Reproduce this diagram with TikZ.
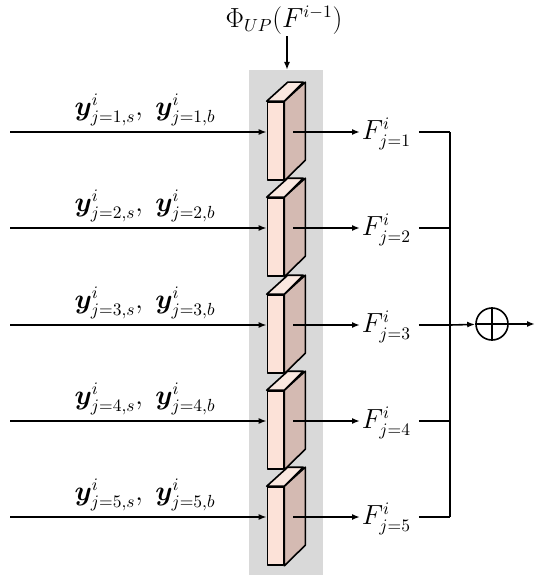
\documentclass[tikz,border=0pt]{standalone}
\usepackage{bm}
\usetikzlibrary{positioning,calc,arrows.meta}
\usepackage{xcolor}
\definecolor{band}{RGB}{217,217,217}
\definecolor{frontface}{RGB}{252,226,216}
\definecolor{sideface}{RGB}{212,186,178}
\definecolor{topface}{RGB}{250,232,224}

\begin{document}
\begin{tikzpicture}[x=1pt,y=-1pt,
  lbl/.style={font=\fontsize{16}{19}\selectfont, scale=1.6, transform shape, inner sep=1pt},
  ln/.style={line width=1.6pt},
  arr/.style={line width=1.6pt, -{Latex[length=8pt,width=6pt]}},
  face/.style={line width=1.6pt, line join=round},
  front/.style={face, draw, fill=frontface, minimum width=16pt, minimum height=78pt, inner sep=0pt}]
\useasboundingbox (0,0) rectangle (539,575);
\fill[band] (249,70) rectangle (323,575);
\node[lbl] (top) at (284,20) {$\Phi_{UP}(F^{i-1})$};
\coordinate (bandtop) at (287,70);
\draw[arr] (top.south -| bandtop) -- (bandtop);
\foreach \i in {1,...,5} {
  \pgfmathsetmacro\ry{round(132+96.25*(\i-1))}
  \coordinate (in\i) at (10,\ry);
  \coordinate (src\i) at (293,\ry);
  \coordinate (bus\i) at (450,\ry);
  \node[front] (blk\i) at (275.5,\ry+9) {};
  \draw[face, fill=sideface] (blk\i.north east) -- ++(21,-19) -- ++(0,78) -- (blk\i.south east) -- cycle;
  \draw[face, fill=topface] (blk\i.north west) -- ++(21,-19) -- ++(15.5,0) -- (blk\i.north east) -- cycle;
  \node[lbl, anchor=south] (ylab\i) at (145,\ry-4) {$\bm{y}^{i}_{j=\i,s},\;\bm{y}^{i}_{j=\i,b}$};
  \node[lbl, anchor=west] (F\i) at (360,\ry+2) {$F^{i}_{j=\i}$};
  \draw[arr] (in\i) -- (in\i -| blk\i.west);
  \draw[arr] (src\i) -- (src\i -| F\i.west);
  \draw[ln] (bus\i -| F\i.east) ++(6,0) -- (bus\i);
}
\draw[ln] (bus1) -- (bus5);
\node[circle, draw, line width=1.6pt, minimum size=32pt, inner sep=0pt] (sum) at (492,324) {};
\draw[ln] (sum.north) -- (sum.south) (sum.west) -- (sum.east);
\coordinate (out) at (535,324);
\draw[arr] (bus3) -- (sum);
\draw[arr] (sum) -- (out);
\end{tikzpicture}
\end{document}
